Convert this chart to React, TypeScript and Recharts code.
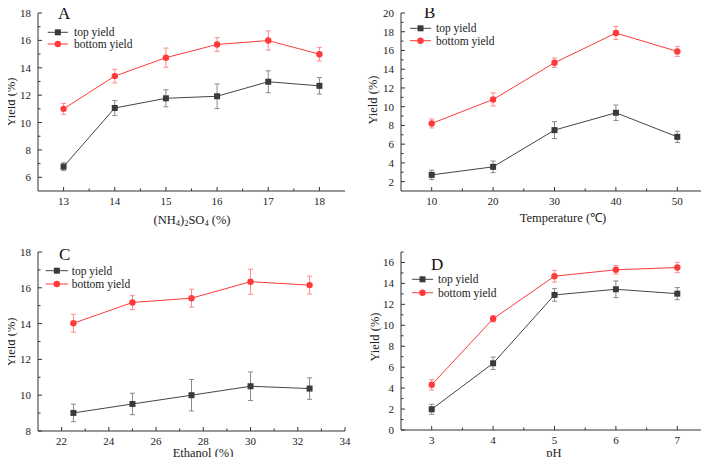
import { LineChart, Line, XAxis, YAxis, ErrorBar } from "recharts";

// A: (NH4)2SO4
const xA = [13, 14, 15, 16, 17, 18];
const topA = [6.78, 11.06, 11.77, 11.92, 12.98, 12.68];
const topAErr = [0.28, 0.55, 0.62, 0.9, 0.8, 0.6];
const bottomA = [11.0, 13.39, 14.74, 15.7, 15.99, 14.99];
const bottomAErr = [0.4, 0.5, 0.7, 0.5, 0.7, 0.5];

// B: temperature
const xB = [10, 20, 30, 40, 50];
const topB = [2.72, 3.58, 7.5, 9.35, 6.78];
const topBErr = [0.5, 0.62, 0.9, 0.82, 0.6];
const bottomB = [8.21, 10.77, 14.69, 17.86, 15.9];
const bottomBErr = [0.48, 0.7, 0.5, 0.7, 0.53];

// C: ethanol
const xC = [22.5, 25, 27.5, 30, 32.5];
const topC = [9.01, 9.51, 10.0, 10.5, 10.37];
const topCErr = [0.49, 0.6, 0.88, 0.8, 0.6];
const bottomC = [14.02, 15.18, 15.42, 16.34, 16.15];
const bottomCErr = [0.5, 0.4, 0.5, 0.7, 0.5];

// D: pH
const xD = [3, 4, 5, 6, 7];
const topD = [1.98, 6.37, 12.9, 13.44, 13.02];
const topDErr = [0.48, 0.6, 0.6, 0.8, 0.58];
const bottomD = [4.32, 10.62, 14.69, 15.3, 15.52];
const bottomDErr = [0.5, 0.3, 0.56, 0.42, 0.5];

const FONT = "Liberation Serif, Times New Roman, serif";
const GRAY = "#454545";
const RED = "#ff3a3a";

const build = (xs: number[], t: number[], te: number[], b: number[], be: number[]) =>
  xs.map((x, i) => ({ x, top: t[i], topErr: te[i], bottom: b[i], bottomErr: be[i] }));

const range = (a: number, b: number, s: number) => {
  const out: number[] = [];
  for (let v = a; v <= b + 1e-9; v += s) out.push(+v.toFixed(3));
  return out;
};

const XTick = (major: number[]) => (p: any) => {
  const v = p.payload.value;
  const isMajor = major.includes(v);
  return (
    <g>
      <line x1={p.x} x2={p.x} y1={p.y} y2={p.y - (isMajor ? 4 : 2.5)} stroke="#333" />
      {isMajor && (
        <text x={p.x} y={p.y + 13.5} textAnchor="middle" fontSize={11} fontFamily={FONT} fill="#222">
          {v}
        </text>
      )}
    </g>
  );
};

const YTick = (major: number[]) => (p: any) => {
  const v = p.payload.value;
  const isMajor = major.includes(v);
  return (
    <g>
      <line x1={p.x} x2={p.x + (isMajor ? 4 : 2.5)} y1={p.y} y2={p.y} stroke="#333" />
      {isMajor && (
        <text x={p.x - 7} y={p.y + 4} textAnchor="end" fontSize={11} fontFamily={FONT} fill="#222">
          {v}
        </text>
      )}
    </g>
  );
};

const Square = (p: any) => (
  <rect key={`s-${p.index}`} x={p.cx - 3} y={p.cy - 3} width={6} height={6} fill="#3a3a3a" />
);
const Circle = (p: any) => (
  <circle key={`c-${p.index}`} cx={p.cx} cy={p.cy} r={3.2} fill={RED} />
);

type PanelProps = {
  left: number;
  top: number;
  width: number;
  height: number;
  margin: { top: number; right: number };
  yWidth: number;
  xHeight: number;
  data: any[];
  xDomain: [number, number];
  yDomain: [number, number];
  xMajor: number[];
  xMinor: number[];
  yMajor: number[];
  yMinor: number[];
  letter: string;
  letterPos: [number, number];
  legendPos: [number, number, number, number, number]; // x1, x2, row1, row2, textX
  yTitlePos: [number, number];
  xTitlePos: [number, number];
  xTitle: any;
};

const titleStyle = {
  position: "absolute" as const,
  fontFamily: FONT,
  fontSize: 12.5,
  color: "#222",
  whiteSpace: "nowrap" as const,
  lineHeight: "12px",
};

const subStyle = { fontSize: 8.5, verticalAlign: "-2px", lineHeight: 0 };

function Panel(props: PanelProps) {
  const [lx1, lx2, r1, r2, tx] = props.legendPos;
  const mid = (lx1 + lx2) / 2;
  const xTicks = [...props.xMajor, ...props.xMinor].sort((a, b) => a - b);
  const yTicks = [...props.yMajor, ...props.yMinor].sort((a, b) => a - b);
  const [ytx, yty] = props.yTitlePos;
  return (
    <div
      style={{
        position: "absolute",
        left: props.left,
        top: props.top,
        width: props.width,
        height: props.height,
      }}
    >
      <LineChart
        width={props.width}
        height={props.height}
        data={props.data}
        margin={{ top: props.margin.top, right: props.margin.right, left: 0, bottom: 0 }}
      >
        <XAxis
          dataKey="x"
          type="number"
          domain={props.xDomain}
          ticks={xTicks}
          interval={0}
          height={props.xHeight}
          tickSize={0}
          tickMargin={0}
          tickLine={false}
          axisLine={{ stroke: "#333" }}
          tick={XTick(props.xMajor)}
          allowDataOverflow
        />
        <YAxis
          type="number"
          domain={props.yDomain}
          ticks={yTicks}
          interval={0}
          width={props.yWidth}
          tickSize={0}
          tickMargin={0}
          tickLine={false}
          axisLine={{ stroke: "#333" }}
          tick={YTick(props.yMajor)}
          allowDataOverflow
        />
        <Line
          dataKey="top"
          stroke={GRAY}
          strokeWidth={1}
          dot={Square}
          activeDot={false}
          isAnimationActive={false}
        >
          <ErrorBar dataKey="topErr" width={2.5} stroke="#8a8a8a" strokeWidth={1} direction="y" />
        </Line>
        <Line
          dataKey="bottom"
          stroke={RED}
          strokeWidth={1}
          dot={Circle}
          activeDot={false}
          isAnimationActive={false}
        >
          <ErrorBar dataKey="bottomErr" width={2.5} stroke="#ff8a8a" strokeWidth={1} direction="y" />
        </Line>

        <g fontFamily={FONT} fontSize={11.5} fill="#222">
          <line x1={lx1} x2={lx2} y1={r1} y2={r1} stroke={GRAY} />
          <rect x={mid - 3} y={r1 - 3} width={6} height={6} fill="#3a3a3a" />
          <text x={tx} y={r1 + 4}>top yield</text>
          <line x1={lx1} x2={lx2} y1={r2} y2={r2} stroke={RED} />
          <circle cx={mid} cy={r2} r={3.2} fill={RED} />
          <text x={tx} y={r2 + 4}>bottom yield</text>
        </g>
      </LineChart>

      <div
        style={{
          ...titleStyle,
          fontSize: 17,
          lineHeight: "18px",
          left: props.letterPos[0],
          top: props.letterPos[1] - 9,
          color: "#111",
        }}
      >
        {props.letter}
      </div>
      <div
        style={{
          ...titleStyle,
          left: ytx - 40,
          top: yty - 6,
          width: 80,
          textAlign: "center",
          transform: "rotate(-90deg)",
        }}
      >
        Yield (%)
      </div>
      <div
        style={{
          ...titleStyle,
          left: props.xTitlePos[0] - 70,
          top: props.xTitlePos[1] - 6,
          width: 140,
          textAlign: "center",
        }}
      >
        {props.xTitle}
      </div>
    </div>
  );
}

export default function App() {
  return (
    <div
      style={{
        position: "relative",
        margin: -8,
        width: 709,
        height: 465,
        background: "#fff",
        fontFamily: FONT,
      }}
    >
      <Panel
        left={0}
        top={0}
        width={354}
        height={232}
        margin={{ top: 13, right: 9 }}
        yWidth={38}
        xHeight={41}
        data={build(xA, topA, topAErr, bottomA, bottomAErr)}
        xDomain={[12.5, 18.5]}
        yDomain={[5, 18]}
        xMajor={range(13, 18, 1)}
        xMinor={range(13.5, 17.5, 1)}
        yMajor={range(6, 18, 2)}
        yMinor={range(7, 17, 2)}
        letter="A"
        letterPos={[58, 14]}
        legendPos={[47.7, 68, 32.3, 44, 74]}
        yTitlePos={[11, 102]}
        xTitlePos={[192, 220]}
        xTitle={
          <>
            (NH<sub style={subStyle}>4</sub>)<sub style={subStyle}>2</sub>SO
            <sub style={subStyle}>4</sub> (%)
          </>
        }
      />
      <Panel
        left={354}
        top={0}
        width={355}
        height={232}
        margin={{ top: 13, right: 1 }}
        yWidth={47}
        xHeight={41}
        data={build(xB, topB, topBErr, bottomB, bottomBErr)}
        xDomain={[5, 55]}
        yDomain={[1, 20]}
        xMajor={range(10, 50, 10)}
        xMinor={range(15, 45, 10)}
        yMajor={range(2, 20, 2)}
        yMinor={range(3, 19, 2)}
        letter="B"
        letterPos={[70, 13]}
        legendPos={[56, 77, 28.3, 40.7, 82]}
        yTitlePos={[18.7, 100]}
        xTitlePos={[209, 218]}
        xTitle="Temperature (℃)"
      />
      <Panel
        left={0}
        top={232}
        width={354}
        height={233}
        margin={{ top: 20, right: 9 }}
        yWidth={38}
        xHeight={34}
        data={build(xC, topC, topCErr, bottomC, bottomCErr)}
        xDomain={[21, 34]}
        yDomain={[8, 18]}
        xMajor={range(22, 34, 2)}
        xMinor={range(23, 33, 2)}
        yMajor={range(8, 18, 2)}
        yMinor={range(9, 17, 2)}
        letter="C"
        letterPos={[59, 23]}
        legendPos={[45.7, 68, 38.7, 52, 71.7]}
        yTitlePos={[11, 110]}
        xTitlePos={[203, 220.5]}
        xTitle="Ethanol (%)"
      />
      <Panel
        left={354}
        top={232}
        width={355}
        height={233}
        margin={{ top: 20, right: 1 }}
        yWidth={47}
        xHeight={35}
        data={build(xD, topD, topDErr, bottomD, bottomDErr)}
        xDomain={[2.5, 7.5]}
        yDomain={[0, 17]}
        xMajor={range(3, 7, 1)}
        xMinor={range(3.5, 6.5, 1)}
        yMajor={range(0, 16, 2)}
        yMinor={range(1, 17, 2)}
        letter="D"
        letterPos={[77, 33]}
        legendPos={[58, 79, 47.3, 60.7, 84]}
        yTitlePos={[21, 104.7]}
        xTitlePos={[200, 220.5]}
        xTitle="pH"
      />
    </div>
  );
}
